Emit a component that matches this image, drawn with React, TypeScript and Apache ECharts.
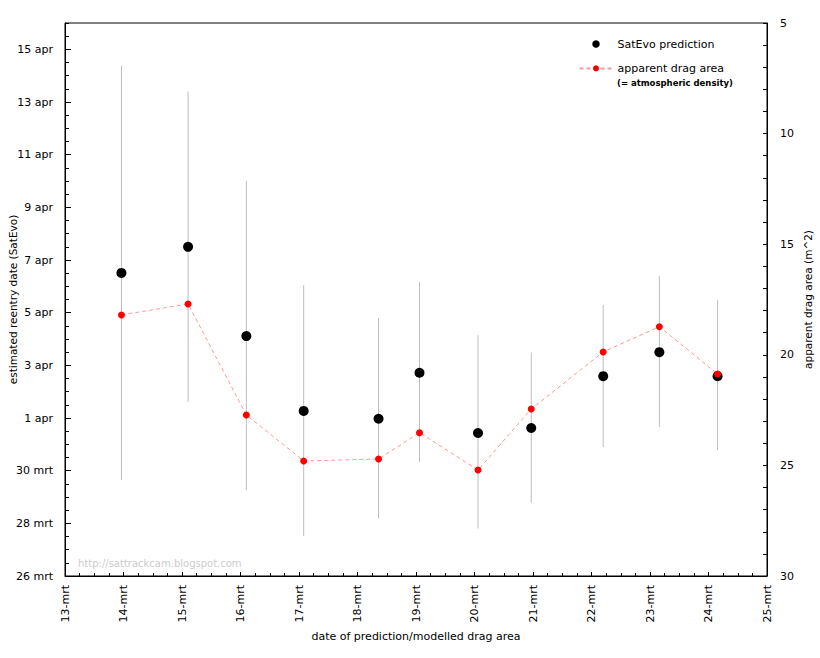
import React, { useEffect, useRef } from "react";
import * as echarts from "echarts";

// date of prediction (day of March)
const predDates = [13.965, 15.104, 16.1, 17.08, 18.36, 19.06, 20.06, 20.97, 22.2, 23.16, 24.155];
// SatEvo predicted reentry date (day counted from 1 March; 32 = 1 apr)
const satevo = [37.51, 38.5, 35.11, 32.27, 31.97, 33.72, 31.43, 31.62, 33.59, 34.5, 33.59];
const satevoLow = [29.64, 32.62, 29.26, 27.52, 28.18, 30.33, 27.8, 28.78, 30.9, 31.66, 30.78];
const satevoHigh = [45.38, 44.4, 41.0, 37.04, 35.79, 37.16, 35.14, 34.49, 36.29, 37.39, 36.48];
// apparent drag area (m^2)
const dragArea = [18.2, 17.7, 22.72, 24.8, 24.71, 23.52, 25.21, 22.45, 19.87, 18.73, 20.87];

const xTickLabels = ["13-mrt", "14-mrt", "15-mrt", "16-mrt", "17-mrt", "18-mrt", "19-mrt", "20-mrt", "21-mrt", "22-mrt", "23-mrt", "24-mrt", "25-mrt"];
const yTickLabels = ["26 mrt", "28 mrt", "30 mrt", "1 apr", "3 apr", "5 apr", "7 apr", "9 apr", "11 apr", "13 apr", "15 apr"];

const FONT = "DejaVu Sans";

export default function App() {
  const ref = useRef<HTMLDivElement>(null);
  useEffect(() => {
    if (!ref.current) return;
    const chart = echarts.init(ref.current, null, { renderer: "svg" });
    const errData = predDates.map((x, i) => [x, satevoLow[i], satevoHigh[i]]);
    const satData = predDates.map((x, i) => [x, satevo[i]]);
    const dragData = predDates.map((x, i) => [x, dragArea[i]]);
    const option: any = {
      animation: false,
      textStyle: { fontFamily: FONT },
      grid: {
        left: 65,
        right: 53,
        top: 23,
        bottom: 82,
        show: true,
        borderColor: "#000",
        borderWidth: 1,
        backgroundColor: "transparent",
        containLabel: false,
        outerBoundsMode: "none",
      },
      legend: {
        orient: "vertical",
        left: 578.5,
        top: 38.5,
        padding: 0,
        itemWidth: 33,
        itemHeight: 7.5,
        itemGap: 13.4,
        textStyle: { fontSize: 11, color: "#000", fontFamily: FONT },
        data: ["SatEvo prediction", "apparent drag area"],
      },
      xAxis: {
        type: "value",
        min: 13,
        max: 25,
        interval: 1,
        name: "date of prediction/modelled drag area",
        nameLocation: "middle",
        nameGap: 55,
        nameMoveOverlap: false,
        nameTextStyle: { fontSize: 11, color: "#000", fontFamily: FONT },
        axisLine: { show: true, lineStyle: { color: "#000", width: 1 } },
        axisTick: { show: true, inside: true, length: 4, lineStyle: { color: "#000" } },
        minorTick: { show: true, splitNumber: 4, length: 3, lineStyle: { color: "#000" } },
        splitLine: { show: false },
        axisLabel: {
          rotate: 90,
          margin: 9,
          fontSize: 11,
          color: "#000",
          fontFamily: FONT,
          formatter: (v: number) => xTickLabels[Math.round(v - 13)] ?? "",
        },
      },
      yAxis: [
        {
          type: "value",
          position: "left",
          min: 26,
          max: 47,
          interval: 2,
          name: "estimated reentry date (SatEvo)",
          nameLocation: "middle",
          nameGap: 47,
          nameMoveOverlap: false,
          nameTextStyle: { fontSize: 10.5, color: "#000", fontFamily: FONT },
          axisLine: { show: true, lineStyle: { color: "#000", width: 1 } },
          axisTick: { show: true, inside: true, length: 6, lineStyle: { color: "#000" } },
          splitLine: { show: false },
          axisLabel: {
            margin: 12,
            fontSize: 11,
            color: "#000",
            fontFamily: FONT,
            showMaxLabel: false,
            formatter: (v: number) => {
              const k = (v - 26) / 2;
              return Number.isInteger(k) ? yTickLabels[k] ?? "" : "";
            },
          },
        },
        {
          type: "value",
          position: "right",
          inverse: true,
          min: 5,
          max: 30,
          interval: 5,
          name: "apparent drag area (m^2)",
          nameLocation: "middle",
          nameGap: 35,
          nameMoveOverlap: false,
          nameTextStyle: { fontSize: 10.5, color: "#000", fontFamily: FONT },
          axisLine: { show: true, lineStyle: { color: "#000", width: 1 } },
          axisTick: { show: true, inside: true, length: 4, lineStyle: { color: "#000" } },
          minorTick: { show: true, splitNumber: 5, length: 4, lineStyle: { color: "#000" } },
          splitLine: { show: false },
          axisLabel: { margin: 13, fontSize: 11, color: "#000", fontFamily: FONT },
        },
        {
          type: "value",
          position: "left",
          min: 26,
          max: 47,
          interval: 0.5,
          axisLine: { show: false },
          axisTick: { show: true, inside: true, length: 4, lineStyle: { color: "#000" } },
          splitLine: { show: false },
          axisLabel: { show: false },
        },
      ],
      graphic: [
        {
          type: "text",
          left: 617,
          top: 78.5,
          style: {
            text: "(= atmospheric density)",
            fontSize: 8.5,
            fontWeight: "bold",
            fontFamily: FONT,
            fill: "#000",
          },
        },
        {
          type: "text",
          left: 78,
          top: 558,
          style: {
            text: "http://sattrackcam.blogspot.com",
            fontSize: 10,
            fontFamily: FONT,
            fill: "#cccccc",
          },
        },
      ],
      series: [
        {
          type: "custom",
          name: "range",
          xAxisIndex: 0,
          yAxisIndex: 0,
          data: errData,
          encode: { x: 0, y: [1, 2] },
          renderItem: (params: any, api: any) => {
            const x = api.value(0);
            const p1 = api.coord([x, api.value(1)]);
            const p2 = api.coord([x, api.value(2)]);
            return {
              type: "line",
              shape: { x1: p1[0], y1: p1[1], x2: p2[0], y2: p2[1] },
              style: { stroke: "#bdbdbd", lineWidth: 1 },
            };
          },
          z: 1,
        },
        {
          type: "scatter",
          name: "SatEvo prediction",
          yAxisIndex: 0,
          data: satData,
          symbol: "circle",
          symbolSize: 10,
          itemStyle: { color: "#000", opacity: 1 },
          z: 2,
        },
        {
          type: "line",
          name: "apparent drag area",
          yAxisIndex: 1,
          data: dragData,
          symbol: "circle",
          symbolSize: 7,
          showSymbol: true,
          itemStyle: { color: "#ff0000", opacity: 1 },
          lineStyle: { color: "#ff9a9a", width: 1, type: [4, 3] },
          z: 3,
        },
      ],
    };
    chart.setOption(option);
    return () => chart.dispose();
  }, []);
  return (
    <div
      ref={ref}
      style={{ position: "fixed", left: 0, top: 0, width: 820, height: 658, background: "#fff" }}
    />
  );
}
